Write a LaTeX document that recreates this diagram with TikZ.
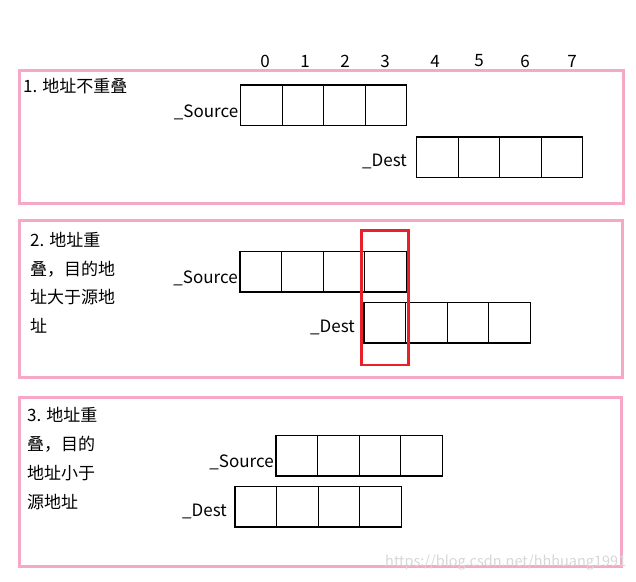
\documentclass[tikz,border=0pt]{standalone}
\usepackage{fontspec}
\setmainfont{Noto Sans CJK SC}
\definecolor{pinkb}{RGB}{246,168,198}
\definecolor{redb}{RGB}{232,32,42}
\definecolor{wmark}{RGB}{215,215,215}
\begin{document}
\begin{tikzpicture}[x=1pt,y=-1pt,
  cell/.style={draw=black,line width=1.1pt,minimum width=41.6pt,minimum height=40.5pt,inner sep=0pt,outer sep=0pt,anchor=north west},
  panel/.style={draw=pinkb,line width=3pt,inner sep=0pt,outer sep=0pt,anchor=north west},
  hilite/.style={draw=redb,line width=2.6pt,inner sep=0pt,outer sep=0pt,anchor=north west},
  txt/.style={font=\fontsize{17}{20}\selectfont,inner sep=0pt},
  line/.style={txt,anchor=base west}]
\useasboundingbox (0,0) rectangle (636,581);
\fill[white] (0,0) rectangle (636,581);

% index digits
\foreach \d/\x in {0/265,1/305,2/345,3/385,4/435,5/479,6/525,7/572}
  \node[txt] (d\d) at (\x,61) {\d};

% panels
\node[panel,minimum width=603.5pt,minimum height=132.5pt] (p1) at (19.5,70.5) {};
\node[panel,minimum width=602.5pt,minimum height=157pt] (p2) at (19.5,220) {};
\node[panel,minimum width=601.5pt,minimum height=169pt] (p3) at (19.5,397) {};

% panel 1
\node[line] (t1) at (23,92.5) {1. 地址不重叠};
\foreach \i in {0,...,3} \node[cell] (s1\i) at ({240.5+41.6*\i},85) {};
\foreach \i in {0,...,3} \node[cell] (e1\i) at ({416.5+41.6*\i},137) {};
\node[txt,anchor=base east] (ls1) at (238.5,117) {\_Source};
\node[txt,anchor=base east] (le1) at (407,166) {\_Dest};

% panel 2
\node[line] (t2a) at (30,246.5) {2. 地址重};
\node[line] (t2b) at (30,275.2) {叠，目的地};
\node[line] (t2c) at (30,303.9) {址大于源地};
\node[line] (t2d) at (30,332.6) {址};
\foreach \i in {0,...,3} \node[cell] (s2\i) at ({240+41.6*\i},251.5) {};
\foreach \i in {0,...,3} \node[cell] (e2\i) at ({364+41.6*\i},302.5) {};
\node[txt,anchor=base east] (ls2) at (238,283) {\_Source};
\node[txt,anchor=base east] (le2) at (355,332) {\_Dest};
\node[hilite,minimum width=47pt,minimum height=134.5pt] (hl) at (361.5,230.5) {};

% panel 3
\node[line] (t3a) at (27,421.5) {3. 地址重};
\node[line] (t3b) at (27,450.5) {叠，目的};
\node[line] (t3c) at (27,479.5) {地址小于};
\node[line] (t3d) at (27,508.5) {源地址};
\foreach \i in {0,...,3} \node[cell] (s3\i) at ({276+41.6*\i},435.5) {};
\foreach \i in {0,...,3} \node[cell] (e3\i) at ({235+41.6*\i},486.5) {};
\node[txt,anchor=base east] (ls3) at (274,467) {\_Source};
\node[txt,anchor=base east] (le3) at (227,516) {\_Dest};

% watermark
\node[font=\fontsize{14.5}{16}\selectfont,text=wmark,inner sep=0pt,anchor=west] (wm) at (385,563) {https://blog.csdn.net/hhhuang1991};
\end{tikzpicture}
\end{document}
